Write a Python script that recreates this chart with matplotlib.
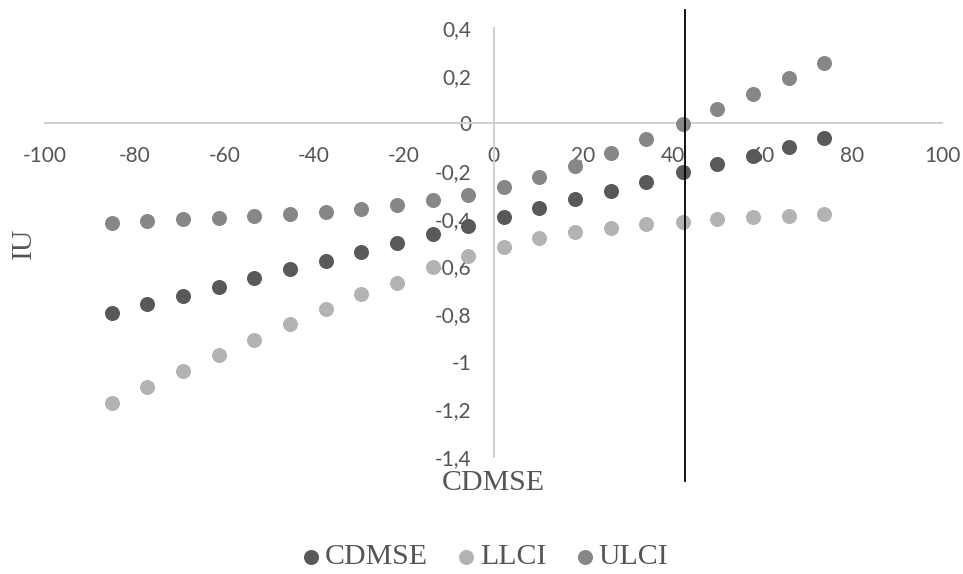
import matplotlib
matplotlib.use("Agg")
import matplotlib.pyplot as plt
from matplotlib.ticker import FuncFormatter, MultipleLocator

# values
cdmse_x = [-85.1, -77.2, -69.2, -61.3, -53.3, -45.4, -37.4, -29.5, -21.6, -13.6, -5.6,
           2.3, 10.2, 18.2, 26.1, 34.1, 42.3, 49.9, 57.9, 65.9, 73.8]
effect = [-0.794, -0.759, -0.723, -0.687, -0.650, -0.611, -0.576, -0.539, -0.503, -0.465, -0.429,
          -0.392, -0.356, -0.319, -0.282, -0.245, -0.206, -0.172, -0.136, -0.100, -0.063]
llci = [-1.172, -1.105, -1.039, -0.974, -0.908, -0.842, -0.780, -0.718, -0.670, -0.603, -0.556,
        -0.517, -0.483, -0.458, -0.440, -0.424, -0.412, -0.402, -0.394, -0.387, -0.380]
ulci = [-0.418, -0.410, -0.403, -0.397, -0.389, -0.380, -0.371, -0.359, -0.343, -0.322, -0.300,
        -0.266, -0.225, -0.178, -0.124, -0.065, -0.002, 0.059, 0.123, 0.189, 0.255]
jn_point = 42.7  # vertical marker line

series_names = ["CDMSE", "LLCI", "ULCI"]
colors = ["#595959", "#b3b3b3", "#878787"]

txt_col = "#555555"
tick_font = ["Lato", "DejaVu Sans"]
serif_font = ["Liberation Serif", "DejaVu Serif"]

fig = plt.figure(figsize=(9.63, 5.74), dpi=100)
ax = fig.add_axes([45 / 963, 1 - 457 / 574, 897 / 963, 429 / 574])

for ys, name, c in zip([effect, llci, ulci], series_names, colors):
    ax.scatter(cdmse_x, ys, s=117, color=c, label=name, zorder=3, linewidths=0)

ax.set_xlim(-100, 100)
ax.set_ylim(-1.4, 0.4)

# axes crossing at the origin, excel style
for side in ["top", "right"]:
    ax.spines[side].set_visible(False)
ax.spines["left"].set_position(("data", 0))
ax.spines["bottom"].set_position(("data", 0))
for side in ["left", "bottom"]:
    ax.spines[side].set_color("#d0d0d0")
    ax.spines[side].set_linewidth(1.4)

ax.xaxis.set_major_locator(MultipleLocator(20))
ax.yaxis.set_major_locator(MultipleLocator(0.2))


def comma_fmt(v, pos):
    s = f"{round(v, 2):g}".replace(".", ",")
    return "0" if s == "-0" else s


ax.xaxis.set_major_formatter(FuncFormatter(comma_fmt))
ax.yaxis.set_major_formatter(FuncFormatter(comma_fmt))
ax.tick_params(axis="both", length=0, labelsize=15, labelcolor=txt_col)
ax.tick_params(axis="x", pad=16)
ax.tick_params(axis="y", pad=16)
for lab in ax.get_xticklabels() + ax.get_yticklabels():
    lab.set_family(tick_font)

# vertical line at the region-of-significance boundary
ax.plot([jn_point, jn_point], [0.476, -1.5], color="black", linewidth=1.3,
        clip_on=False, zorder=4)

fig.text(493 / 963, 1 - 483 / 574, "CDMSE", ha="center", va="center",
         fontsize=21.5, color=txt_col, family=serif_font)
fig.text(24 / 963, 1 - 243 / 574, "IU", ha="center", va="center", rotation=90,
         fontsize=21.5, color=txt_col, family=serif_font)

fig.legend(loc="center", bbox_to_anchor=(485 / 963, 1 - 557 / 574), ncol=3,
           frameon=False, handlelength=0.6, handletextpad=0.15, columnspacing=1.0,
           prop={"family": serif_font, "size": 21.5}, labelcolor=txt_col,
           scatterpoints=1)

fig.savefig("out.png", dpi=100)
